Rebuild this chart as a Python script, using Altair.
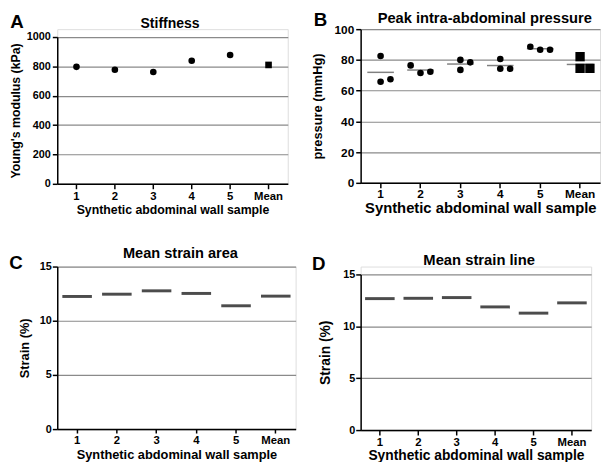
import altair as alt
import pandas as pd

FONT = "Liberation Sans"

cats = ["1", "2", "3", "4", "5", "Mean"]

# A: Young's modulus (kPa)
stiffness = [797, 777, 762, 838, 878, 810]

# B: peak intra-abdominal pressure (mmHg), three replicates per sample
pressure_1 = [82.5, 65.8, 67.4]
pressure_2 = [76.4, 71.5, 72.3]
pressure_3 = [80.0, 73.5, 78.4]
pressure_4 = [80.6, 74.2, 74.2]
pressure_5 = [88.6, 86.6, 86.6]
pressure_mean = [82.1, 74.5, 74.5]
# side-by-side placement of overlapping replicates (left / centre / right)
jitter_1 = ["C", "C", "R"]
jitter_2 = ["L", "C", "R"]
jitter_3 = ["C", "C", "R"]
jitter_4 = ["C", "C", "R"]
jitter_5 = ["L", "C", "R"]
jitter_mean = ["C", "C", "R"]

# C / D: strain (%)
strain_area = [12.24, 12.45, 12.76, 12.52, 11.38, 12.27]
strain_line = [12.67, 12.70, 12.77, 11.87, 11.27, 12.26]

XTITLE = "Synthetic abdominal wall sample"


def xaxis(title_size, label_size, tick, lpad, tpad):
    return alt.Axis(
        title=XTITLE, labelAngle=0, labelFont=FONT, labelFontWeight="bold",
        labelFontSize=label_size, labelColor="black", titleFont=FONT,
        titleFontWeight="bold", titleFontSize=title_size, titleColor="black",
        domainColor="black", domainWidth=1.5, tickColor="black", tickWidth=1.5,
        tickSize=tick, labelPadding=lpad, titlePadding=tpad, grid=False,
    )


def yaxis(title, values, title_size, label_size, tick, lpad, tpad):
    return alt.Axis(
        title=title, values=values, format="d", labelFont=FONT, labelFontWeight="bold",
        labelFontSize=label_size, labelColor="black", titleFont=FONT,
        titleFontWeight="bold", titleFontSize=title_size, titleColor="black",
        domainColor="black", domainWidth=1.5, tickColor="black", tickWidth=1.5,
        tickSize=tick, labelPadding=lpad, titlePadding=tpad,
        grid=True, gridColor="#8a8a8a", gridWidth=1.2,
    )


def xscale():
    return alt.Scale(type="band", domain=cats, paddingInner=0, paddingOuter=0)


def text_layer(txt, x, y, size, align):
    return alt.Chart(pd.DataFrame({"t": [txt]})).mark_text(
        font=FONT, fontSize=size, fontWeight="bold", align=align,
        baseline="alphabetic", color="black",
    ).encode(x=alt.value(x), y=alt.value(y), text="t:N")


# ---------------- Panel A ----------------
wA, hA = 234, 157
dfA = pd.DataFrame({"cat": cats, "value": stiffness})
ptsA = alt.Chart(dfA).mark_point(filled=True, opacity=1, color="black", size=45).encode(
    x=alt.X("cat:N", scale=xscale(), sort=cats, axis=xaxis(12.5, 11.5, 5, 2, 1.5)),
    y=alt.Y("value:Q", scale=alt.Scale(domain=[0, 1000], range=[hA, 8], nice=False),
            axis=yaxis("Young's modulus (kPa)", [0, 200, 400, 600, 800, 1000], 12.5, 11, 5, 2, 4)),
    shape=alt.Shape("cat:N", scale=alt.Scale(domain=cats, range=["circle"] * 5 + ["square"]), legend=None),
)
panelA = alt.layer(
    ptsA,
    text_layer("A", -47.7, -0.7, 19, "left"),
    text_layer("Stiffness", wA / 2 - 2.5, -1.5, 14.2, "center"),
).properties(width=wA, height=hA)

# ---------------- Panel B ----------------
wB, hB = 243, 156
bw = wB / 6
groups = [pressure_1, pressure_2, pressure_3, pressure_4, pressure_5, pressure_mean]
jits = [jitter_1, jitter_2, jitter_3, jitter_4, jitter_5, jitter_mean]
rows = []
for c, vals, js in zip(cats, groups, jits):
    for v, j in zip(vals, js):
        rows.append({"cat": c, "value": v, "jit": j})
dfB = pd.DataFrame(rows)

xaxB = xaxis(15, 12, 5, 1, 1)
yaxB = yaxis("pressure (mmHg)", [0, 20, 40, 60, 80, 100], 13, 12, 5, 2, 9.5)
yscB = alt.Scale(domain=[0, 100], nice=False)

meanB = alt.Chart(dfB).mark_tick(color="#808080", thickness=1.5, size=27).encode(
    x=alt.X("cat:N", scale=xscale(), sort=cats, axis=xaxB),
    y=alt.Y("mean(value):Q", scale=yscB, axis=yaxB, title="pressure (mmHg)"),
)
ptsB = alt.Chart(dfB).mark_point(filled=True, opacity=1, color="black").encode(
    x=alt.X("cat:N", scale=xscale(), sort=cats, axis=xaxB),
    xOffset=alt.XOffset("jit:N", scale=alt.Scale(type="point", domain=["L", "C", "R"],
                                                 range=[bw / 2 - 10, bw / 2 + 10], padding=0)),
    y=alt.Y("value:Q", scale=yscB, axis=yaxB, title="pressure (mmHg)"),
    shape=alt.Shape("cat:N", scale=alt.Scale(
        domain=cats,
        range=["circle", "square", "triangle-up", "triangle-down", "diamond", "triangle-up"]),
        legend=None),
    size=alt.when(alt.datum.cat == "Mean").then(alt.value(90)).otherwise(alt.value(45)),
)
panelB = alt.layer(
    meanB, ptsB,
    text_layer("B", -47.7, -3, 19, "left"),
    text_layer("Peak intra-abdominal pressure", wB / 2 + 4.5, -6.7, 14.9, "center"),
).properties(width=wB, height=hB)

# ---------------- Panel C ----------------
wC, hC = 242, 165
dfC = pd.DataFrame({"cat": cats, "value": strain_area})
barsC = alt.Chart(dfC).mark_tick(color="black", thickness=3, size=30).encode(
    x=alt.X("cat:N", scale=xscale(), sort=cats, axis=xaxis(13, 11.5, 4, 1.5, 3)),
    y=alt.Y("value:Q", scale=alt.Scale(domain=[0, 15], range=[hC, 0], nice=False),
            axis=yaxis("Strain (%)", [0, 5, 10, 15], 13, 11, 5, 1, 8)),
)
panelC = alt.layer(
    barsC,
    text_layer("C", -48.7, 2.2, 19, "left"),
    text_layer("Mean strain area", wC / 2 + 4, -8.3, 14.8, "center"),
).properties(width=wC, height=hC)

# ---------------- Panel D ----------------
wD, hD = 234, 166
dfD = pd.DataFrame({"cat": cats, "value": strain_line})
barsD = alt.Chart(dfD).mark_tick(color="black", thickness=3, size=30).encode(
    x=alt.X("cat:N", scale=xscale(), sort=cats, axis=xaxis(14, 11.5, 5, 1.2, 1.5)),
    y=alt.Y("value:Q", scale=alt.Scale(domain=[0, 15], range=[hD, 8], nice=False),
            axis=yaxis("Strain (%)", [0, 5, 10, 15], 14, 11, 5, 1, 10)),
)
panelD = alt.layer(
    barsD,
    text_layer("D", -49.3, 3, 19, "left"),
    text_layer("Mean strain line", wD / 2 + 3.3, -1.4, 15, "center"),
).properties(width=wD, height=hD)

chart = alt.concat(
    panelA, panelB, panelC, panelD,
    columns=2, bounds="flush", align="all",
    spacing=alt.RowColnumber(row=75, column=65),
).properties(
    padding={"left": 0, "top": -2, "right": 0, "bottom": 0}
).configure_view(stroke=None).configure(background="white")

chart.save("out.html", embed_options={"renderer": "svg", "actions": False})
